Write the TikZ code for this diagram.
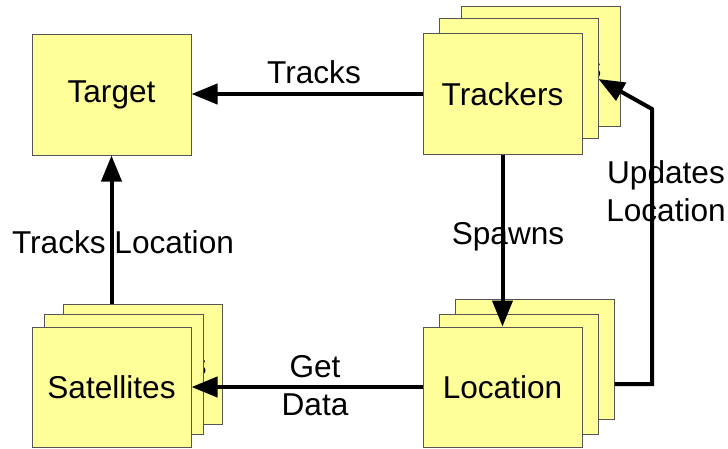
\documentclass[tikz,border=0pt]{standalone}
\usepackage{fontspec}
\setmainfont{Liberation Sans}
\usetikzlibrary{arrows.meta}
\definecolor{boxfill}{HTML}{FFFF99}
\definecolor{boxline}{HTML}{555555}
\begin{document}
\begin{tikzpicture}[x=0.5pt,y=-0.5pt,
  card/.style={draw=boxline,line width=0.5pt,fill=boxfill,
    minimum width=79.5pt,minimum height=60pt,inner sep=0pt,
    font=\fontsize{15.8}{19}\selectfont},
  link/.style={line width=2pt,-{Triangle[length=13pt,width=10pt]}},
  tag/.style={font=\fontsize{15.8}{19}\selectfont,align=center,inner sep=0pt}]
\useasboundingbox (0,0) rectangle (728,449);

% single target
\node[card] (tgt) at (111.5,95) {Target};

% stacked tracker cards
\node[card] (trk3) at (540.5,67) {Trackers};
\node[card] (trk2) at (518.5,79) {Trackers};
\node[card] (trk)  at (502.5,94) {Trackers};

% stacked location cards
\node[card] (loc3) at (534.5,359.5) {Location};
\node[card] (loc2) at (518.5,374) {Location};
\node[card] (loc)  at (502.5,387) {Location};

% stacked satellite cards
\node[card] (sat3) at (142.5,364) {Satellites};
\node[card] (sat2) at (124,374) {Satellites};
\node[card] (sat)  at (111.5,387) {Satellites};

% labels
\node[tag] (lTracks) at (314,72) {Tracks};
\node[tag] (lTrLoc)  at (123,242) {Tracks Location};
\node[tag] (lSpawn)  at (508,237) {Spawns};
\node[tag] (lGet)    at (315,386) {Get\\Data};
\node[tag] (lUpd)    at (666,191) {Updates\\Location};

% connectors
\draw[link] (trk.west) -- (trk.west -| tgt.east);
\draw[link] (tgt.south |- sat3.north) -- (tgt.south);
\draw[link] (trk.south) -- (loc.north);
\draw[link] (loc.west) -- (loc.west -| sat.east);
\coordinate (u1) at (652,384);
\coordinate (u2) at (652,109);
\draw[link] (loc3.east |- u1) -- (u1) -- (u2) -- (trk2.east);
\end{tikzpicture}
\end{document}
